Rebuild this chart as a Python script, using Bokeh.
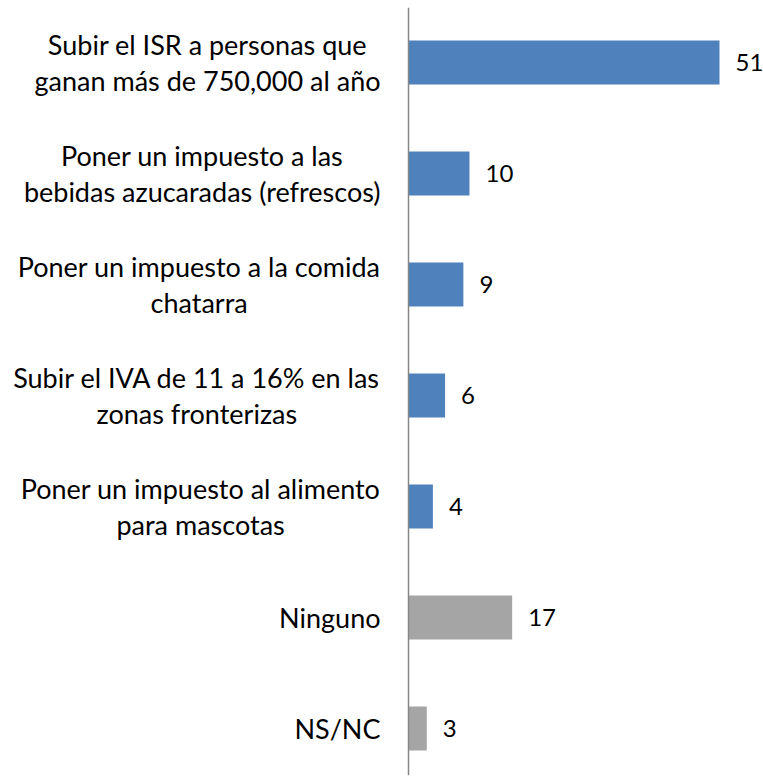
from bokeh.plotting import figure
from bokeh.models import Range1d, Span, ColumnDataSource
from bokeh.core.properties import value
from bokeh.embed import file_html
from bokeh.resources import INLINE

categories = [
    "Subir el ISR a personas que\nganan más de 750,000 al año",
    "Poner un impuesto a las\nbebidas azucaradas (refrescos)",
    "Poner un impuesto a la comida\nchatarra",
    "Subir el IVA de 11 a 16% en las\nzonas fronterizas",
    "Poner un impuesto al alimento\npara mascotas",
    "Ninguno",
    "NS/NC",
]
values = [51, 10, 9, 6, 4, 17, 3]
colors = ["#4F81BD"] * 5 + ["#A5A5A5"] * 2

W, H = 763, 778
top_b, bot_b = 7, 3
FH = H - top_b - bot_b
k = 311 / 51.0          # px per unit
x0_px = 408             # axis position in figure px
first_y = 62 - top_b
step = 111

pos = list(range(len(categories)))
src = ColumnDataSource(dict(
    y=pos, v=values, c=colors, cat=categories,
    lx=[-28 / k] * len(pos),
    vx=[v + 16 / k for v in values],
    vt=[str(v) for v in values],
))

p = figure(width=W, height=H, output_backend="svg", toolbar_location=None,
           x_range=Range1d(-x0_px / k, (W - x0_px) / k),
           y_range=Range1d((FH - first_y) / step, -first_y / step),
           min_border=0, min_border_top=top_b, min_border_bottom=bot_b)
p.axis.visible = False
p.grid.visible = False
p.outline_line_color = None
p.background_fill_color = "white"
p.border_fill_color = "white"

p.hbar(y="y", left=0, right="v", height=44 / step, fill_color="c",
       line_color=None, source=src)
p.add_layout(Span(location=0, dimension="height", line_color="#868686",
                  line_width=1.5))

p.text(x="lx", y="y", text="cat", source=src, text_font=value("Lato"),
       text_font_size="27px", text_color="#000000", text_align="center",
       anchor="center_right", text_line_height=1.08)
p.text(x="vx", y="y", text="vt", source=src, text_font=value("Lato"),
       text_font_size="24px", text_color="#000000", text_align="left",
       text_baseline="middle")

open("out.html", "w").write(file_html(p, INLINE))
